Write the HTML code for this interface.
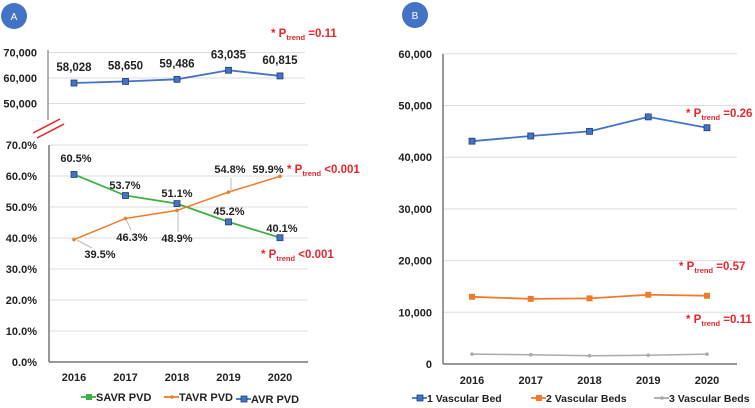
<!DOCTYPE html>
<html><head><meta charset="utf-8"><style>
body{margin:0;background:#fff;}
svg{display:block;font-family:"Liberation Sans",sans-serif;font-weight:bold;}
</style></head><body>
<svg id="c" width="755" height="408" viewBox="0 0 755 408"></svg>
<script>
const years=["2016","2017","2018","2019","2020"];
const avr=[58028,58650,59486,63035,60815];
const avrLabels=["58,028","58,650","59,486","63,035","60,815"];
const savr=[60.5,53.7,51.1,45.2,40.1];
const tavr=[39.5,46.3,48.9,54.8,59.9];
const topTicks=[70000,60000,50000];
const topTickLabels=["70,000","60,000","50,000"];
const pctTicks=[0,10,20,30,40,50,60,70];
const bed1=[43100,44100,45000,47800,45700];
const bed2=[13000,12600,12700,13400,13200];
const bed3=[1900,1800,1600,1700,1900];
const bTicks=[0,10000,20000,30000,40000,50000,60000];

const S="http://www.w3.org/2000/svg",svg=document.getElementById('c');
function el(t,a,p){const e=document.createElementNS(S,t);for(const k in a)e.setAttribute(k,a[k]);(p||svg).appendChild(e);return e;}
function txt(x,y,s,a,p){const e=el('text',Object.assign({x:x,y:y,'font-size':11,fill:'#222'},a||{}),p);e.textContent=s;return e;}
function ptrend(x,y,val,name){const t=el('text',{x:x,y:y,'font-size':11.5,fill:'#e8262b'});

t.innerHTML='* P<tspan font-size="7.5" dy="3">trend</tspan><tspan dy="-3"> '+val+'</tspan>';}

// Panel A
const xA=i=>74+i*51.5;
const yTop=v=>78-(v-60000)*25.5/10000;
const yPct=v=>362-v*3.1;
const gA=el('g',{});
el('circle',{cx:14,cy:16,r:13,fill:'#4472c4'},gA);txt(14,20,'A',{'font-size':10,fill:'#fff','text-anchor':'middle','font-weight':'normal'},gA);
topTicks.forEach((v,i)=>{el('line',{x1:48,x2:305,y1:yTop(v),y2:yTop(v),stroke:'#ddd'},gA);
 const t=txt(37,yTop(v)+4,topTickLabels[i],{'text-anchor':'end'},gA);});
el('line',{x1:48,x2:48,y1:50,y2:120,stroke:'#999','stroke-width':1.5},gA);
el('line',{x1:33,x2:60,y1:133,y2:119,stroke:'#e82020','stroke-width':1.5},gA);
el('line',{x1:37,x2:64,y1:138,y2:124,stroke:'#e82020','stroke-width':1.5},gA);
pctTicks.forEach(v=>{if(v>0)el('line',{x1:49,x2:308,y1:yPct(v),y2:yPct(v),stroke:'#ddd'},gA);
 const t=txt(37,yPct(v)+4,v.toFixed(1)+'%',{'text-anchor':'end'},gA);});
el('line',{x1:49,x2:49,y1:145,y2:362,stroke:'#777','stroke-width':1.5},gA);
el('line',{x1:49,x2:308,y1:362,y2:362,stroke:'#777','stroke-width':1.5},gA);
years.forEach((y,i)=>{const t=txt(xA(i),381,y,{'text-anchor':'middle'},gA);});
function series(g,vals,fx,fy,color,w,mk,name){
 const p=el('polyline',{points:vals.map((v,i)=>fx(i)+','+fy(v)).join(' '),fill:'none',stroke:color,'stroke-width':w},g);
 
 vals.forEach((v,i)=>{let m;if(mk==='sq')m=el('rect',{x:fx(i)-3,y:fy(v)-3,width:6,height:6,fill:'#4472c4',stroke:'#1f3f7a','stroke-width':0.8},g);
  else if(mk==='sqo')m=el('rect',{x:fx(i)-3,y:fy(v)-3,width:6,height:6,fill:color},g);
  else m=el('circle',{cx:fx(i),cy:fy(v),r:1.8,fill:color},g);
  });}
series(gA,avr,xA,yTop,'#4472c4',1.8,'sq','avr-line');
avr.forEach((v,i)=>txt(xA(i),yTop(v)-12,avrLabels[i],{'text-anchor':'middle','font-size':11.5},gA));
series(gA,savr,xA,yPct,'#3cb043',1.8,'sq','savr-line');
series(gA,tavr,xA,yPct,'#f07a2a',1.5,'dot','tavr-line');
const sl=[[74,162],[125,189],[177,197],[229,215],[282,232]];
savr.forEach((v,i)=>txt(sl[i][0]+(i==0?2:0),sl[i][1],v.toFixed(1)+'%',{'text-anchor':'middle'},gA));
const tl=[[100,258],[132,241],[177,242],[230,173],[268,173]];
tavr.forEach((v,i)=>txt(tl[i][0],tl[i][1],v.toFixed(1)+'%',{'text-anchor':'middle'},gA));
el('line',{x1:77,x2:92,y1:240,y2:248,stroke:'#bbb'},gA);el('line',{x1:126,x2:131,y1:219,y2:230,stroke:'#bbb'},gA);
el('line',{x1:178,x2:178,y1:211,y2:232,stroke:'#bbb'},gA);el('line',{x1:231,x2:231,y1:178,y2:192,stroke:'#bbb'},gA);
ptrend(271,37,'=0.11','ptrend-avr');ptrend(287,173,'<0.001','ptrend-tavr');ptrend(261,258,'<0.001','ptrend-savr');
function leg(g,x,y,color,mk,label,name,fs){const lg=el('g',{},g);
 el('line',{x1:x,x2:x+15,y1:y,y2:y,stroke:color,'stroke-width':1.8},lg);
 if(mk==='sq')el('rect',{x:x+5,y:y-3,width:6,height:6,fill:'#4472c4',stroke:'#1f3f7a','stroke-width':0.8},lg);
 else if(mk==='sqo')el('rect',{x:x+5,y:y-3,width:6,height:6,fill:color},lg);
 else el('circle',{cx:x+8,cy:y,r:1.8,fill:color},lg);
 txt(x+15,y+4,label,{'font-size':fs||11},lg);}
leg(gA,81,397,'#3cb043','sqo','SAVR PVD','legend-savr');
leg(gA,164,397,'#f07a2a','dot','TAVR PVD','legend-tavr');
leg(gA,236,399,'#4472c4','sq','AVR PVD','legend-avr');

// Panel B
const xB=i=>472+i*58.75;
const yB=v=>364-v*51.7/10000;
const gB=el('g',{});
el('circle',{cx:415,cy:15,r:13,fill:'#4472c4'},gB);txt(415,19,'B',{'font-size':10,fill:'#fff','text-anchor':'middle','font-weight':'normal'},gB);
bTicks.forEach(v=>{if(v>0)el('line',{x1:443,x2:737,y1:yB(v),y2:yB(v),stroke:'#ddd'},gB);
 const t=txt(432,yB(v)+4,v===0?'0':v.toLocaleString('en-US'),{'text-anchor':'end'},gB);});
el('line',{x1:443,x2:443,y1:54,y2:364,stroke:'#777','stroke-width':1.5},gB);
el('line',{x1:443,x2:737,y1:364,y2:364,stroke:'#777','stroke-width':1.5},gB);
years.forEach((y,i)=>{const t=txt(xB(i),384,y,{'text-anchor':'middle'},gB);});
series(gB,bed1,xB,yB,'#4472c4',1.8,'sq','bed1-line');
series(gB,bed2,xB,yB,'#f07a2a',1.8,'sqo','bed2-line');
series(gB,bed3,xB,yB,'#aaa',1.5,'dot','bed3-line');
ptrend(686,117,'=0.26','ptrend-bed1');ptrend(679,270,'=0.57','ptrend-bed2');ptrend(686,323,'=0.11','ptrend-bed3');
leg(gB,412,398,'#4472c4','sq','1 Vascular Bed','legend-bed1',10.5);
leg(gB,531,398,'#f07a2a','sqo','2 Vascular Beds','legend-bed2',10.5);
leg(gB,654,398,'#aaa','dot','3 Vascular Beds','legend-bed3',10.5);
</script>
</body></html>
